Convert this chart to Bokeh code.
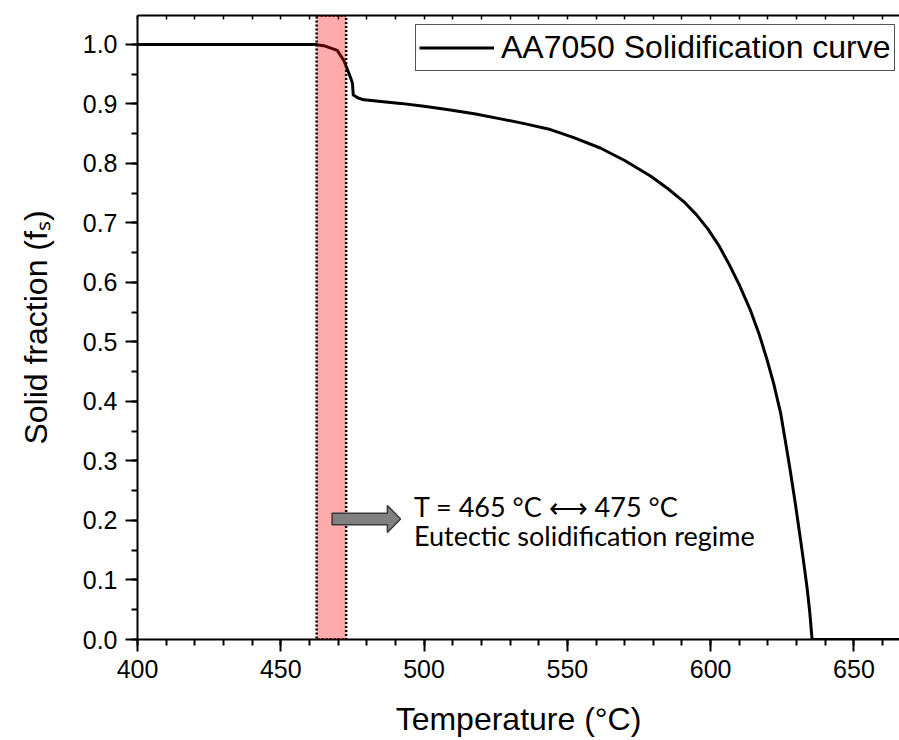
from bokeh.plotting import figure
from bokeh.models import (Range1d, LinearAxis, FixedTicker, BoxAnnotation, PolyAnnotation,
                          Label, Legend, LegendItem, NumeralTickFormatter)
from bokeh.embed import file_html
from bokeh.resources import INLINE

# ---- data ----
temperature = [400, 462, 465, 469.7, 472, 474.3, 475.0, 475.3, 477, 479, 491.8, 500,
               509.2, 518, 526.7, 535, 544.1, 552, 561.5, 570, 579, 585, 590.6, 595,
               599, 603, 606.5, 610, 613.9, 617, 619.7, 622, 624.4, 626.2, 627.8,
               629.5, 631.3, 632.6, 633.7, 634.6, 635.4, 666]
solid_fraction = [1.0, 1.0, 0.998, 0.99, 0.973, 0.945, 0.935, 0.915, 0.910, 0.907, 0.901,
                  0.896, 0.890, 0.883, 0.875, 0.867, 0.857, 0.844, 0.826, 0.805, 0.779,
                  0.758, 0.736, 0.714, 0.690, 0.661, 0.630, 0.596, 0.553, 0.512, 0.470,
                  0.430, 0.381, 0.330, 0.283, 0.230, 0.170, 0.125, 0.085, 0.045, 0.0, 0.0]
series_label = "AA7050 Solidification curve"
eutectic_band = (462.5, 472.8)
annotation_lines = ["T = 465 °C \u27f7 475 °C", "Eutectic solidification regime"]
x_major = [400, 450, 500, 550, 600, 650]
x_minor = list(range(400, 670, 10))
y_major = [round(0.1 * i, 1) for i in range(11)]
y_minor = [round(0.05 * i, 2) for i in range(21)]

FONT = "Liberation Sans"

p = figure(frame_width=762, frame_height=624,
           x_range=Range1d(400, 665.9), y_range=Range1d(0, 1.0487),
           output_backend="svg", toolbar_location=None,
           min_border_left=137, min_border_right=0, min_border_top=15, min_border_bottom=100,
           background_fill_color="white", border_fill_color="white")
p.outline_line_color = None
p.xgrid.visible = False
p.ygrid.visible = False

line = p.line(temperature, solid_fraction, line_color="black", line_width=3,
              line_join="round")

# eutectic band (drawn over the curve, translucent)
band = BoxAnnotation(left=eutectic_band[0], right=eutectic_band[1], bottom=0, top=None,
                     fill_color="#FF0000", fill_alpha=0.33,
                     line_color="black", line_alpha=1.0, line_width=2.5, line_dash="2 2")
p.add_layout(band)

# block arrow
ax0, ax1, ay = 467.9, 491.8, 0.2025
head_len, body_h, head_h = 4.6, 0.0098, 0.0228
arrow = PolyAnnotation(
    xs=[ax0, ax1 - head_len, ax1 - head_len, ax1, ax1 - head_len, ax1 - head_len, ax0],
    ys=[ay - body_h, ay - body_h, ay - head_h, ay, ay + head_h, ay + body_h, ay + body_h],
    fill_color="#808080", fill_alpha=1, line_color="#3a3a3a", line_alpha=1, line_width=1.5)
p.add_layout(arrow)

for txt, yc in zip(annotation_lines, [0.2235, 0.1748]):
    p.add_layout(Label(x=496.5, y=yc, text=txt, text_font="Lato", text_font_size="27px",
                       text_color="black", text_baseline="middle", text_align="left"))

# axes
for ax in (p.xaxis[0], p.yaxis[0]):
    ax.axis_line_width = 2
    ax.major_tick_line_width = 2
    ax.minor_tick_line_width = 2
    ax.major_tick_in = 0
    ax.major_tick_out = 12
    ax.minor_tick_in = 0
    ax.minor_tick_out = 6
    ax.major_label_text_font = FONT
    ax.major_label_text_font_size = "25px"
    ax.major_label_text_color = "black"
    ax.axis_label_text_font = FONT
    ax.axis_label_text_font_size = "32px"
    ax.axis_label_text_font_style = "normal"
    ax.axis_label_text_color = "black"

p.xaxis.ticker = FixedTicker(ticks=x_major, minor_ticks=x_minor)
p.yaxis.ticker = FixedTicker(ticks=y_major, minor_ticks=y_minor)
p.yaxis.formatter = NumeralTickFormatter(format="0.0")
p.xaxis.axis_label = "Temperature (°C)"
p.yaxis.axis_label = "Solid fraction (f\u209b)"
p.xaxis.major_label_standoff = 8
p.yaxis.major_label_standoff = 8
p.xaxis.axis_label_standoff = 20
p.yaxis.axis_label_standoff = 26

# top axis: line with small inward ticks only (no labels)
top = LinearAxis(ticker=FixedTicker(ticks=[], minor_ticks=x_minor),
                 axis_line_width=2, major_tick_in=0, major_tick_out=0,
                 minor_tick_in=4, minor_tick_out=0, minor_tick_line_width=1.5)
p.add_layout(top, "above")

legend = Legend(items=[LegendItem(label=series_label, renderers=[line])],
                location=(278, 568), padding=3, spacing=0, margin=0,
                glyph_width=75, glyph_height=39, label_height=39, label_standoff=7,
                label_text_font=FONT, label_text_font_size="32px", label_text_color="black",
                border_line_color="#555555", border_line_width=1.5, border_line_alpha=1,
                background_fill_color="white", background_fill_alpha=1)
p.add_layout(legend)

open("out.html", "w").write(file_html(p, INLINE))
